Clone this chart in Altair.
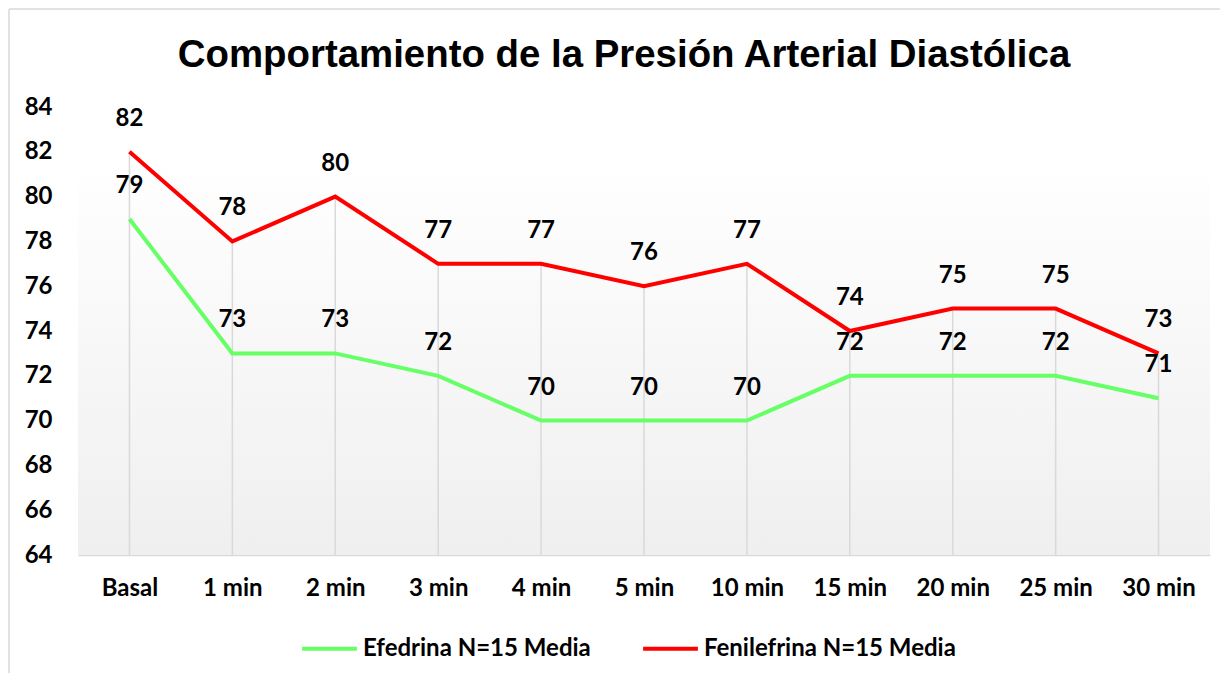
import altair as alt
import pandas as pd

categories = ["Basal", "1 min", "2 min", "3 min", "4 min", "5 min", "10 min", "15  min", "20 min", "25 min", "30 min"]
efedrina = [79, 73, 73, 72, 70, 70, 70, 72, 72, 72, 71]
fenilefrina = [82, 78, 80, 77, 77, 76, 77, 74, 75, 75, 73]
series_names = ["Efedrina N=15 Media", "Fenilefrina N=15 Media"]
series_colors = ["#66FF66", "#FF0000"]
y_ticks = list(range(64, 86, 2))
title_text = "Comportamiento de la Presión Arterial Diastólica"

rows = []
for i, c in enumerate(categories):
    rows.append({"cat": c, "serie": series_names[0], "val": efedrina[i]})
    rows.append({"cat": c, "serie": series_names[1], "val": fenilefrina[i]})
df = pd.DataFrame(rows)
drop = pd.DataFrame({"cat": categories, "top": [max(a, b) for a, b in zip(efedrina, fenilefrina)], "base": [64] * len(categories)})

W, H = 1132, 448
FONT = "Lato"
FS = 24

xenc = alt.X("cat:N", sort=categories, scale=alt.Scale(type="point", padding=0.5),
             axis=alt.Axis(title=None, labelAngle=0, labelFont=FONT, labelFontSize=FS, labelFontWeight="bold",
                           labelColor="#000000", labelPadding=21, ticks=False, domain=True,
                           domainColor="#d9d9d9", domainWidth=1.5, grid=False))
yscale = alt.Scale(domain=[64, 84], nice=False, zero=False)

one = pd.DataFrame({"a": [0]})

bg = alt.Chart(one).mark_rect(
    color=alt.Gradient(gradient="linear", x1=0, x2=0, y1=0, y2=1,
                       stops=[alt.GradientStop(color="#ffffff", offset=0),
                              alt.GradientStop(color="#ffffff", offset=0.12),
                              alt.GradientStop(color="#efefef", offset=1)])
).encode(x=alt.value(0), x2=alt.value(W), y=alt.value(0), y2=alt.value(H))

frame_left = alt.Chart(one).mark_rule(color="#d9d9d9", strokeWidth=1.5).encode(
    x=alt.value(-69), y=alt.value(-98), y2=alt.value(H + 200))
frame_top = alt.Chart(one).mark_rule(color="#d9d9d9", strokeWidth=1.5).encode(
    x=alt.value(-69), x2=alt.value(W + 200), y=alt.value(-98))

title = alt.Chart(pd.DataFrame({"t": [title_text]})).mark_text(
    font="Liberation Sans", fontSize=38.4, fontWeight="bold", color="#000000", align="center",
    baseline="alphabetic"
).encode(x=alt.value(546), y=alt.value(-40), text="t:N")

rules = alt.Chart(drop).mark_rule(color="#d9d9d9", strokeWidth=1.5).encode(
    x=xenc,
    y=alt.Y("top:Q", scale=yscale),
    y2="base:Q",
)

lines = alt.Chart(df).mark_line(strokeWidth=4).encode(
    x=xenc,
    y=alt.Y("val:Q", scale=yscale,
            axis=alt.Axis(title=None, values=y_ticks, labelFont=FONT, labelFontSize=FS, labelFontWeight="bold",
                          labelColor="#000000", labelPadding=26, ticks=False, domain=False, grid=False)),
    color=alt.Color("serie:N", sort=series_names,
                    scale=alt.Scale(domain=series_names, range=series_colors),
                    legend=alt.Legend(title=None, orient="none", legendX=222, legendY=512, direction="horizontal",
                                      symbolType="stroke", symbolStrokeWidth=4, symbolSize=3000,
                                      labelFont=FONT, labelFontSize=FS, labelFontWeight="bold", labelColor="#000000",
                                      labelLimit=0, columnPadding=44, labelOffset=4)),
)

labels = alt.Chart(df).mark_text(font=FONT, fontSize=24, fontWeight="bold", color="#000000",
                                 baseline="middle", dy=-33).encode(
    x=xenc,
    y=alt.Y("val:Q", scale=yscale),
    text="val:Q",
)

chart = alt.layer(bg, frame_left, frame_top, rules, lines, labels, title).properties(
    width=W, height=H,
    padding={"left": 70, "top": 99, "right": 10, "bottom": 118},
    autosize=alt.AutoSizeParams(type="none"),
).configure_view(stroke=None)

chart.save("out.html", embed_options={"renderer": "svg", "actions": False})
